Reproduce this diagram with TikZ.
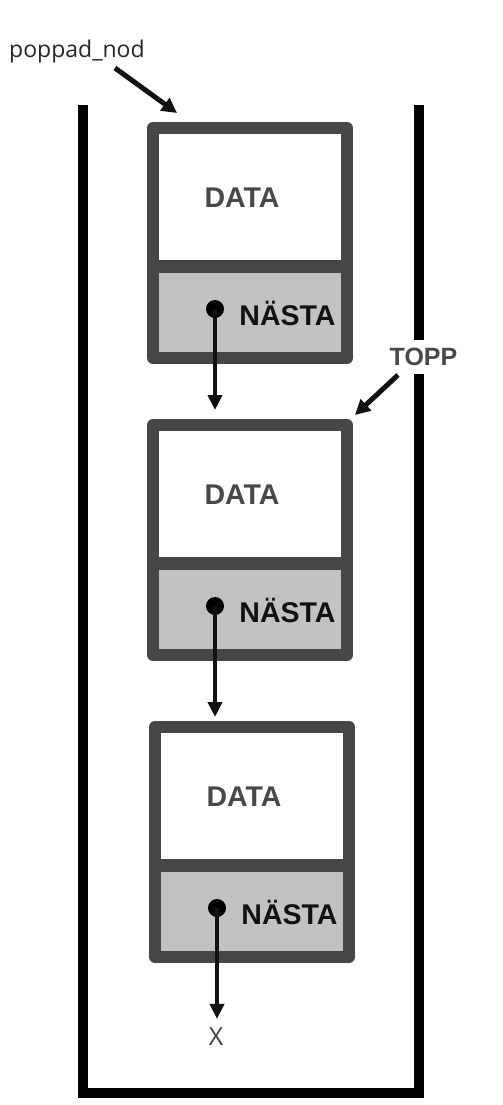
\documentclass[tikz,border=0pt]{standalone}
\usepackage{fontspec}
\setmainfont{Liberation Sans}
\newfontfamily\labelfont{Open Sans}
\usetikzlibrary{arrows.meta}
\definecolor{framegray}{HTML}{464646}
\definecolor{cellgray}{HTML}{C2C2C2}
\definecolor{textgray}{HTML}{484848}
\definecolor{inkblack}{HTML}{111111}
\newcommand{\stacknode}[3]{%
  \fill[cellgray] (#2-97,#3+144) rectangle (#2+97,#3+236);
  \node[framebox] (#1) at (#2,#3+121) {};
  \draw[framegray, line width=13pt] (#2-97,#3+144.5) -- (#2+97,#3+144.5);
  \node[datatext] (#1data) at (#2-8,#3+85) {DATA};
  \node[nexttext] (#1next) at (#2+37.5,#3+203) {NÄSTA};
  \node[ptrdot] (#1dot) at (#2-35,#3+187) {};
}
\begin{document}
\begin{tikzpicture}[x=1pt,y=-1pt,
  wall/.style={draw=black, line width=10pt, line join=miter},
  framebox/.style={draw=framegray, line width=12pt, line join=round, minimum width=194pt, minimum height=230pt, inner sep=0pt},
  datatext/.style={anchor=base, text=textgray, font=\fontsize{28.5}{30}\selectfont\bfseries, inner sep=0pt},
  nexttext/.style={anchor=base, text=inkblack, font=\fontsize{28.5}{30}\selectfont\bfseries, inner sep=0pt},
  ptrdot/.style={circle, fill=black, minimum size=18pt, inner sep=0pt},
  link/.style={draw=inkblack, line width=4.5pt, -{Triangle[width=14pt,length=15pt]}},
  pointer/.style={draw=inkblack, line width=5pt, -{Triangle[width=15pt,length=15pt]}},
  toplabel/.style={text=textgray, font=\fontsize{25}{27}\selectfont\bfseries, fill=white, inner xsep=3pt, inner ysep=8.5pt},
  poplabel/.style={text=black!85, font=\labelfont\fontsize{23}{25}\selectfont, inner sep=0pt, anchor=base west},
  endlabel/.style={text=black!75, font=\labelfont\fontsize{25}{27}\selectfont, inner sep=0pt}
]
\useasboundingbox (0,0) rectangle (503,1105);
\fill[white] (0,0) rectangle (503,1105);
% container
\draw[wall] (83,105) -- (83,1093) -- (419,1093) -- (419,105);
% list nodes
\stacknode{n1}{250}{122}
\stacknode{n2}{250}{419}
\stacknode{n3}{252}{721}
% links
\draw[link, shorten >=9pt] (n1dot.center) -- (n1dot.center |- n2.north);
\draw[link, shorten >=4pt] (n2dot.center) -- (n2dot.center |- n3.north);
\node[endlabel] (xend) at (216,1037) {X};
\draw[link, shorten >=9pt] (n3dot.center) -- (n3dot.center |- xend.north);
% labels
\node[poplabel] (pop) at (9,58) {poppad\_nod};
\coordinate (popfrom) at (115,68);
\coordinate (popto) at (177,113);
\draw[pointer] (popfrom) -- (popto);
\node[toplabel] (topp) at (423.5,357) {TOPP};
\coordinate (toppfrom) at (398,375);
\coordinate (toppto) at (355,415);
\draw[pointer] (toppfrom) -- (toppto);
\end{tikzpicture}
\end{document}
